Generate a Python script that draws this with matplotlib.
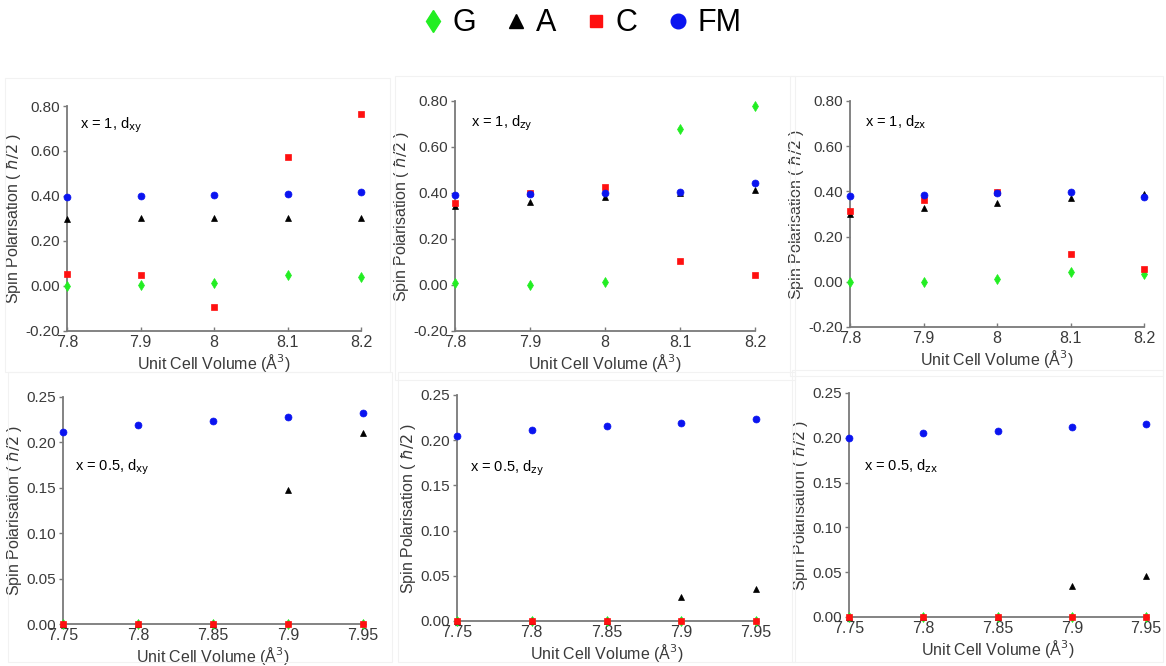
import matplotlib.pyplot as plt
from matplotlib.lines import Line2D
from matplotlib.patches import Rectangle
from matplotlib.ticker import FormatStrFormatter, FuncFormatter

plt.rcParams['font.family'] = ['Liberation Sans', 'DejaVu Sans']
plt.rcParams['mathtext.fontset'] = 'dejavusans'

# unit cell volumes
vol_x1 = [7.8, 7.9, 8.0, 8.1, 8.2]
vol_x05 = [7.75, 7.8, 7.85, 7.9, 7.95]

# x = 1, d_xy
g_x1_dxy = [0.0, 0.003, 0.015, 0.049, 0.038]
a_x1_dxy = [0.296, 0.300, 0.301, 0.301, 0.302]
c_x1_dxy = [0.055, 0.051, -0.095, 0.572, 0.764]
fm_x1_dxy = [0.396, 0.401, 0.405, 0.411, 0.416]

# x = 1, d_zy
g_x1_dzy = [0.010, 0.0, 0.013, 0.680, 0.777]
a_x1_dzy = [0.342, 0.362, 0.382, 0.398, 0.414]
c_x1_dzy = [0.358, 0.400, 0.425, 0.103, 0.044]
fm_x1_dzy = [0.390, 0.396, 0.401, 0.405, 0.445]

# x = 1, d_zx
g_x1_dzx = [0.0, 0.001, 0.013, 0.042, 0.033]
a_x1_dzx = [0.302, 0.327, 0.350, 0.371, 0.390]
c_x1_dzx = [0.312, 0.363, 0.396, 0.125, 0.055]
fm_x1_dzx = [0.381, 0.386, 0.391, 0.396, 0.377]

# x = 0.5, d_xy
g_x05_dxy = [0.0, 0.0, 0.0, 0.0, 0.0]
a_x05_dxy = [0.0, 0.0, 0.0, 0.148, 0.210]
c_x05_dxy = [0.0, 0.0, 0.0, 0.0, 0.0]
fm_x05_dxy = [0.211, 0.219, 0.224, 0.228, 0.232]

# x = 0.5, d_zy
g_x05_dzy = [0.0, 0.0, 0.0, 0.0, 0.0]
a_x05_dzy = [0.0, 0.0, 0.0, 0.027, 0.035]
c_x05_dzy = [0.0, 0.0, 0.0, 0.0, 0.0]
fm_x05_dzy = [0.205, 0.211, 0.216, 0.219, 0.223]

# x = 0.5, d_zx
g_x05_dzx = [0.0, 0.0, 0.0, 0.0, 0.0]
a_x05_dzx = [0.0, 0.0, 0.0, 0.035, 0.046]
c_x05_dzx = [0.0, 0.0, 0.0, 0.0, 0.0]
fm_x05_dzx = [0.200, 0.205, 0.208, 0.212, 0.215]

labels = [r'x = 1, d$_{\mathrm{xy}}$', r'x = 1, d$_{\mathrm{zy}}$', r'x = 1, d$_{\mathrm{zx}}$',
          r'x = 0.5, d$_{\mathrm{xy}}$', r'x = 0.5, d$_{\mathrm{zy}}$', r'x = 0.5, d$_{\mathrm{zx}}$']

series = ['G', 'A', 'C', 'FM']
colors = {'G': '#22ee22', 'A': 'black', 'C': '#ff1010', 'FM': '#0a14f0'}
markers = {'G': 'd', 'A': '^', 'C': 's', 'FM': 'o'}
msizes = {'G': 5.5, 'A': 4.5, 'C': 4.0, 'FM': 5.0}

panels = [
    (vol_x1, [g_x1_dxy, a_x1_dxy, c_x1_dxy, fm_x1_dxy]),
    (vol_x1, [g_x1_dzy, a_x1_dzy, c_x1_dzy, fm_x1_dzy]),
    (vol_x1, [g_x1_dzx, a_x1_dzx, c_x1_dzx, fm_x1_dzx]),
    (vol_x05, [g_x05_dxy, a_x05_dxy, c_x05_dxy, fm_x05_dxy]),
    (vol_x05, [g_x05_dzy, a_x05_dzy, c_x05_dzy, fm_x05_dzy]),
    (vol_x05, [g_x05_dzx, a_x05_dzx, c_x05_dzx, fm_x05_dzx]),
]

W, H = 1166, 666
# axes boxes in pixels: left, right, top, bottom
boxes = [(67, 361, 106, 331), (455, 755, 101, 331), (850, 1144, 101, 327),
         (63, 363, 397, 624), (457, 756, 395, 621), (849, 1146, 393, 617)]
text_pos = [(0.044, 0.916), (0.053, 0.904), (0.051, 0.907),
            (0.04, 0.69), (0.043, 0.677), (0.05, 0.674)]
# faint frames of the pasted panels
frames = [(5, 390, 78, 372), (395, 795, 76, 380), (790, 1163, 76, 376),
          (8, 392, 372, 662), (398, 795, 372, 662), (792, 1163, 370, 662)]

fig = plt.figure(figsize=(W / 100, H / 100), dpi=100)

for l, r, t, b in frames:
    fig.patches.append(Rectangle((l / W, 1 - b / H), (r - l) / W, (b - t) / H,
                                 transform=fig.transFigure, fill=False,
                                 edgecolor='#f2f2f2', linewidth=0.8))

txt_col = '#3a3a3a'
for i, ((x, ys), (l, r, t, b)) in enumerate(zip(panels, boxes)):
    ax = fig.add_axes([l / W, 1 - b / H, (r - l) / W, (b - t) / H])
    for name, y in zip(series, ys):
        ax.plot(x, y, linestyle='none', marker=markers[name], color=colors[name],
                markersize=msizes[name], markeredgewidth=0.5, clip_on=False, zorder=3)
    ax.set_xlim(x[0], x[-1])
    ax.set_xticks(x)
    ax.xaxis.set_major_formatter(FuncFormatter(lambda v, p: '%g' % round(v, 2)))
    if i < 3:
        ax.set_ylim(-0.2, 0.8)
        ax.set_yticks([-0.2, 0.0, 0.2, 0.4, 0.6, 0.8])
    else:
        ax.set_ylim(0.0, 0.25)
        ax.set_yticks([0.0, 0.05, 0.10, 0.15, 0.20, 0.25])
    ax.yaxis.set_major_formatter(FormatStrFormatter('%.2f'))
    for s in ['top', 'right']:
        ax.spines[s].set_visible(False)
    for s in ['left', 'bottom']:
        ax.spines[s].set_color('#7a7a7a')
        ax.spines[s].set_linewidth(1.3)
    ax.tick_params(axis='y', direction='out', length=3, width=1, color='#7a7a7a',
                   labelsize=11, labelcolor=txt_col, pad=2)
    ax.tick_params(axis='x', direction='in', length=3, width=1, color='#7a7a7a',
                   labelsize=11.5, labelcolor=txt_col, pad=3)
    ax.set_xlabel('Unit Cell Volume (Å$^3$)', fontsize=11.5, color=txt_col, labelpad=1)
    ax.set_ylabel(r'Spin Polarisation ( $\hbar/2$ )', fontsize=11.5, color=txt_col, labelpad=2)
    ax.text(text_pos[i][0], text_pos[i][1], labels[i], transform=ax.transAxes,
            fontsize=10.5, color='black', ha='left', va='center')

handles = [Line2D([], [], linestyle='none', marker=markers[n], color=colors[n],
                  markersize=msizes[n] * 2.1) for n in series]
fig.legend(handles, series, loc='center', bbox_to_anchor=(0.497, 0.965), ncol=4,
           frameon=False, fontsize=22, handletextpad=0.15, columnspacing=0.8,
           handlelength=1.0)

fig.savefig('out.png', dpi=100)
